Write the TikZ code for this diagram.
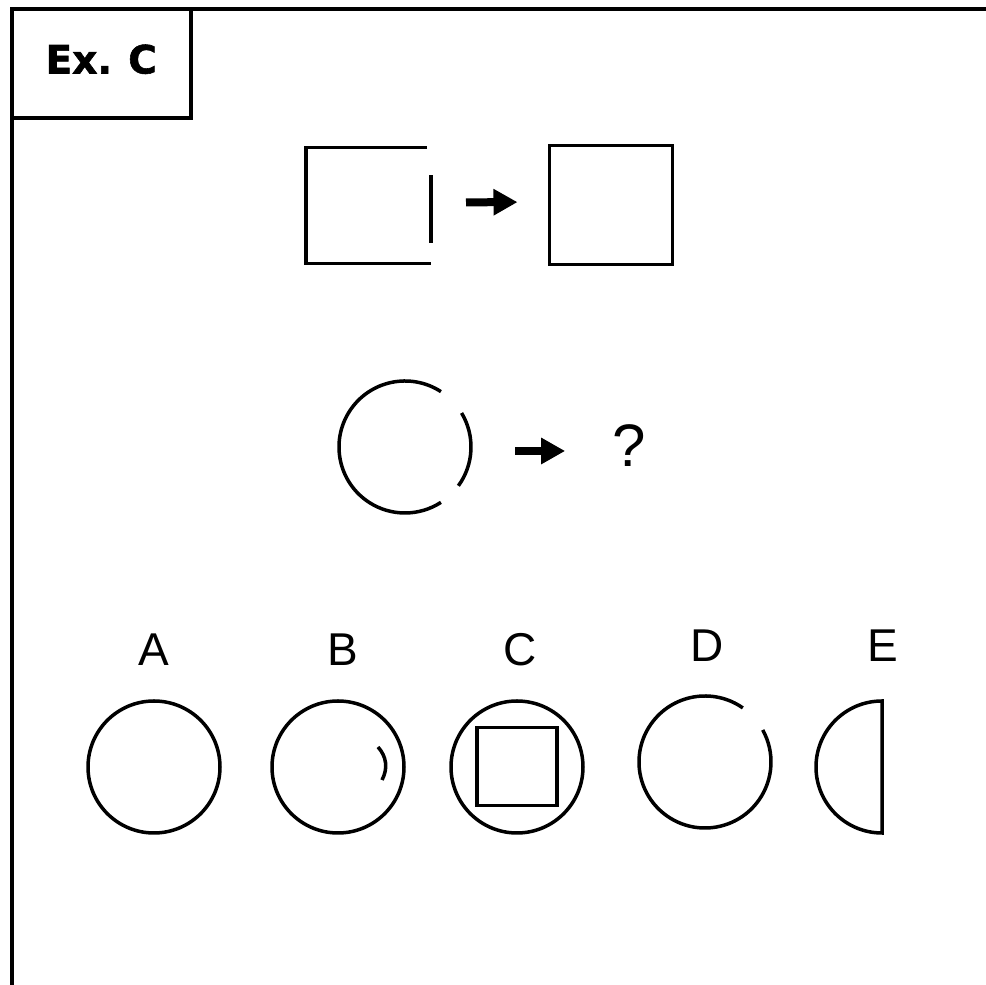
\documentclass[tikz,border=0pt]{standalone}
\usepackage{fontspec}
\setmainfont{Liberation Sans}
\newfontfamily\tagfont[BoldFeatures={FakeBold=1.5}]{DejaVu Sans}
\usepackage{tikz}
\usetikzlibrary{arrows.meta,positioning}

\begin{document}
\begin{tikzpicture}[x=1pt,y=1pt,
  fig/.style={line width=3.5pt,line cap=butt},
  ring/.style={circle,draw,line width=3.5pt,minimum size=132pt,inner sep=0pt,outer sep=0pt},
  ghost/.style={circle,minimum size=132pt,inner sep=0pt,outer sep=0pt},
  box/.style={rectangle,draw,line width=3.5pt,inner sep=0pt,outer sep=0pt},
  arr/.style={-{Triangle[length=24pt,width=25pt]},line width=8pt},
  lbl/.style={font=\fontsize{46}{50}\selectfont,inner sep=0pt,anchor=base}]
\useasboundingbox (0,0) rectangle (986,985);
\fill[white] (0,0) rectangle (986,985);
\draw[line width=4pt] (12,0) -- (12,975.5) -- (986,975.5);
\node[box,line width=4pt,minimum width=178.5pt,minimum height=109pt,text depth=10pt,
  font=\tagfont\bfseries\fontsize{39}{42}\selectfont] (tag) at (101.25,921) {Ex.\hspace{-2pt} C};
\node[rectangle,minimum width=125pt,minimum height=116pt,inner sep=0pt,outer sep=0pt] (sqin) at (368.5,779.5) {};
\node[box,minimum width=123pt,minimum height=119pt] (sqout) at (611,780) {};
\draw[fig] ([xshift=-4pt]sqin.north east) -- (sqin.north west) -- (sqin.south west) -- (sqin.south east);
\draw[fig] ([yshift=-28pt]sqin.north east) -- ([yshift=20pt]sqin.south east);
\draw[arr,shorten <=35pt,shorten >=32pt] ([yshift=3pt]sqin.east) -- ([yshift=3pt]sqout.west);
\node[ghost] (cin) at (405,538) {};
\draw[fig] (cin.57) arc[start angle=57,end angle=303,radius=66pt];
\draw[fig] (cin.-36) arc[start angle=-36,end angle=31,radius=66pt];
\node[font=\fontsize{60}{64}\selectfont,inner sep=0pt,anchor=base] (q) at (629,518) {?};
\draw[arr,shorten <=44pt,shorten >=47pt] ([yshift=-4pt]cin.east) -- ([yshift=-4pt]q.west |- cin.east);
\foreach \l/\x/\y in {A/154/319,B/343/319,C/520/319,D/707/323,E/883/323}
  \node[lbl] (l\l) at (\x,\y) {\l};
\node[ring] (cA) at (154,218) {};
\node[ring] (cB) at (338,218) {};
\draw[fig] ([shift={(40pt,20pt)}]cB.center) to[bend left=35] ([shift={(44pt,-13pt)}]cB.center);
\node[ring] (cC) at (517,218) {};
\node[box,minimum width=80pt,minimum height=78pt] (sqC) at (517,218.5) {};
\node[ghost] (cD) at (705,223) {};
\draw[fig] (cD.55) arc[start angle=55,end angle=389,radius=66pt];
\node[ghost] (cE) at (882,218) {};
\draw[fig,line join=miter] (cE.north) arc[start angle=90,end angle=270,radius=66pt] -- cycle;
\end{tikzpicture}
\end{document}
